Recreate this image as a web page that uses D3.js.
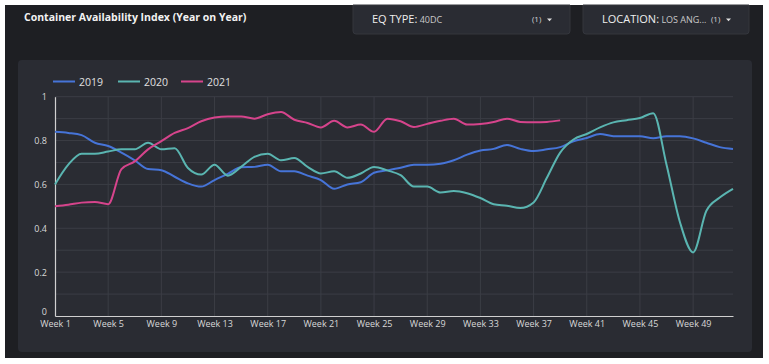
<!DOCTYPE html>
<html><head><meta charset="utf-8">
<script src="https://cdn.jsdelivr.net/npm/d3@7"></script>
<style>
html,body{margin:0;padding:0;background:#ffffff;}
svg{display:block;font-family:"Open Sans","Noto Sans",sans-serif;}
</style></head>
<body>
<script>
const weeks = d3.range(1, 53);
const tickWeeks = [1,5,9,13,17,21,25,29,33,37,41,45,49];
const yTicks = [0,0.2,0.4,0.6,0.8,1];
const seriesNames = ["2019","2020","2021"];
const seriesColors = ["#4674d8","#5ab5b1","#d6448c"];
const v2019 = [0.84,0.835,0.825,0.79,0.775,0.745,0.71,0.67,0.665,0.635,0.605,0.59,0.62,0.648,0.678,0.68,0.69,0.66,0.66,0.64,0.62,0.58,0.60,0.61,0.653,0.664,0.676,0.69,0.69,0.694,0.71,0.736,0.755,0.762,0.78,0.762,0.752,0.76,0.77,0.797,0.812,0.83,0.82,0.82,0.82,0.81,0.82,0.82,0.81,0.79,0.77,0.762];
const v2020 = [0.60,0.69,0.74,0.74,0.75,0.76,0.76,0.79,0.76,0.765,0.675,0.645,0.69,0.64,0.68,0.726,0.74,0.71,0.72,0.68,0.65,0.66,0.63,0.65,0.68,0.664,0.642,0.59,0.59,0.563,0.57,0.56,0.538,0.51,0.503,0.492,0.518,0.63,0.745,0.805,0.83,0.86,0.883,0.893,0.903,0.925,0.69,0.43,0.29,0.48,0.54,0.58];
const v2021 = [0.50,0.507,0.517,0.52,0.51,0.67,0.705,0.76,0.797,0.835,0.857,0.888,0.905,0.91,0.91,0.90,0.92,0.93,0.895,0.88,0.86,0.89,0.86,0.873,0.84,0.90,0.888,0.862,0.876,0.89,0.90,0.873,0.876,0.885,0.90,0.885,0.883,0.885,0.892];
const seriesValues = [v2019, v2020, v2021];

const W = 769, H = 364;
const svg = d3.select("body").append("svg").attr("width", W).attr("height", H);

// outer dark panel
svg.append("rect").attr("x",5).attr("y",5).attr("width",758).attr("height",353).attr("fill","#1e1f23");

// title
svg.append("text").attr("x",24).attr("y",21).attr("fill","#f2f2f2")
  .attr("font-size",10.5).attr("font-weight",700).text("Container Availability Index (Year on Year)");

// filter boxes
function filterBox(x, w, label, value, count){
  const g = svg.append("g");
  g.append("path").attr("d", `M${x},5 H${x+w} V${31} Q${x+w},34 ${x+w-3},34 H${x+3} Q${x},34 ${x},31 Z`)
    .attr("fill","#2a2c33").attr("stroke","#34363d").attr("stroke-width",1);
  const t = g.append("text").attr("x", x+19).attr("y", 23).attr("fill","#eeeeee");
  t.append("tspan").attr("font-size",11).text(label);
  t.append("tspan").attr("font-size",9).attr("fill","#c9c9c9").text(" " + value);
  g.append("text").attr("x", x+w-38).attr("y",22).attr("fill","#d8d8d8").attr("font-size",8).text(count);
  g.append("path").attr("d", `M${x+w-23},18.5 h5 l-2.5,2.8 Z`).attr("fill","#e0e0e0");
}
filterBox(353, 217, "EQ TYPE:", "40DC", "(1)");
filterBox(583, 166, "LOCATION:", "LOS ANG...", "(1)");

// chart card
svg.append("rect").attr("x",18).attr("y",60).attr("width",734).attr("height",292).attr("rx",4)
  .attr("fill","#2a2c33");

const x = d3.scaleLinear().domain([1,52]).range([55,733]);
const y = d3.scaleLinear().domain([0,1]).range([316,96.7]);

// grid
const grid = svg.append("g");
grid.selectAll("line.h").data(d3.range(1,11).map(d=>d/10)).join("line")
  .attr("x1",55).attr("x2",733).attr("y1",d=>y(d)).attr("y2",d=>y(d))
  .attr("stroke","#3b3d45").attr("stroke-width",1);
grid.selectAll("line.v").data(tickWeeks.slice(1)).join("line")
  .attr("x1",d=>x(d)).attr("x2",d=>x(d)).attr("y1",y(1)).attr("y2",y(0))
  .attr("stroke","#3b3d45").attr("stroke-width",1);

// axes
const yAxis = svg.append("g").attr("transform","translate(55,0)")
  .call(d3.axisLeft(y).tickValues(yTicks).tickSize(0).tickPadding(8).tickFormat(d3.format("~g")));
const xAxis = svg.append("g").attr("transform",`translate(0,${y(0)})`)
  .call(d3.axisBottom(x).tickValues(tickWeeks).tickSize(0).tickPadding(5).tickFormat(d=>"Week " + d));
[yAxis, xAxis].forEach(a=>{
  a.select(".domain").attr("stroke","#d0d0d0").attr("stroke-width",1.2);
  a.selectAll("text").attr("fill","#d8d8d8").attr("font-size",9).attr("font-family",'"Open Sans","Noto Sans",sans-serif');
});
yAxis.selectAll("text").attr("dy","0.32em");
// "0" label sits just above the Week 1 label, like the reference
yAxis.selectAll(".tick").filter(d=>d===0).select("text").attr("dy","-0.15em");

// lines
const line = d3.line().x((d,i)=>x(weeks[i])).y(d=>y(d)).curve(d3.curveMonotoneX);
seriesValues.forEach((vals, k)=>{
  svg.append("path").datum(vals).attr("d", line).attr("fill","none")
    .attr("stroke", seriesColors[k]).attr("stroke-width",2).attr("stroke-linejoin","round");
});

// legend
const legX = [53,118,181];
seriesNames.forEach((name,k)=>{
  svg.append("line").attr("x1",legX[k]).attr("x2",legX[k]+22).attr("y1",81.5).attr("y2",81.5)
    .attr("stroke",seriesColors[k]).attr("stroke-width",2);
  svg.append("text").attr("x",legX[k]+26).attr("y",85.5).attr("fill","#e0e0e0").attr("font-size",10.5).text(name);
});
</script>
</body></html>
